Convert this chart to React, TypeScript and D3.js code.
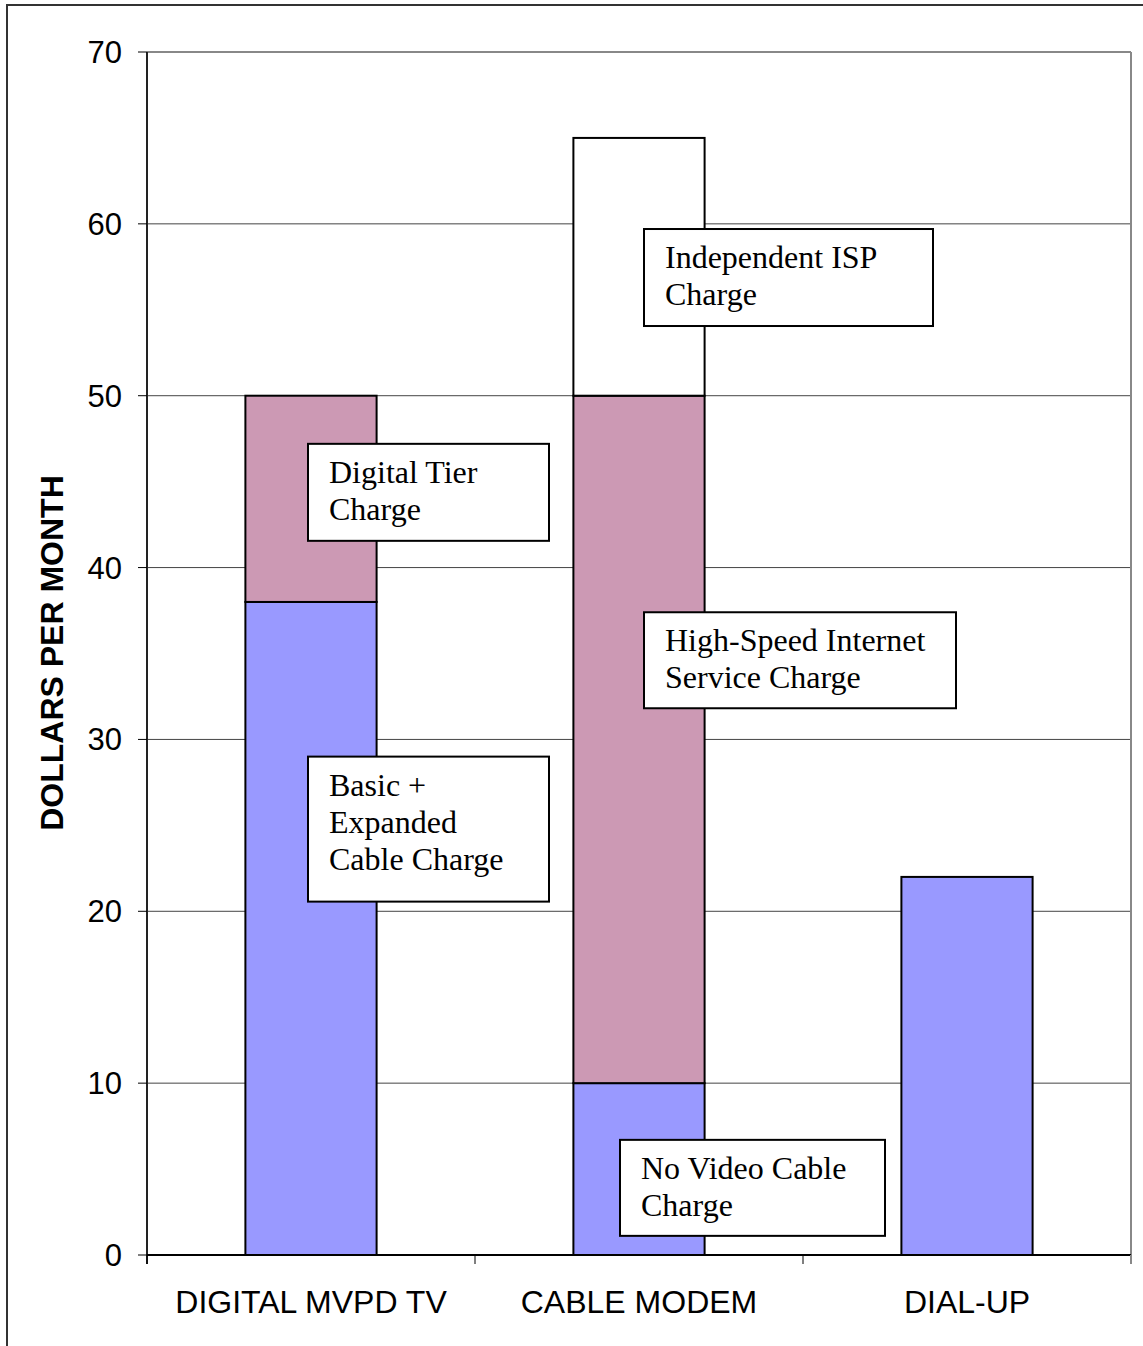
import React from "react";
import * as d3 from "d3";

// Monthly charges by service (dollars per month)
const categories = ["DIGITAL MVPD TV", "CABLE MODEM", "DIAL-UP"];
const baseCharge = [38, 10, 22];       // Basic + Expanded / No Video cable / Dial-up
const upperCharge = [12, 40, 0];       // Digital Tier / High-Speed Internet
const ispCharge = [0, 15, 0];          // Independent ISP
const yTicks = [0, 10, 20, 30, 40, 50, 60, 70];

const BLUE = "#9999FF";
const PINK = "#CC99B4";
const WHITE = "#FFFFFF";

const W = 1143;
const H = 1346;
const M = { left: 147, right: 1131, top: 52, bottom: 1255 };

// Callout boxes: anchored to a category band and a value on the y-axis
const callouts = [
  { cat: 0, dx: -3, top: 47.2, w: 241, h: 97, lines: ["Digital Tier", "Charge"] },
  { cat: 0, dx: -3, top: 29.0, w: 241, h: 145, lines: ["Basic +", "Expanded", "Cable Charge"] },
  { cat: 1, dx: 5, top: 59.7, w: 289, h: 97, lines: ["Independent ISP", "Charge"] },
  { cat: 1, dx: 5, top: 37.4, w: 312, h: 96, lines: ["High-Speed Internet", "Service Charge"] },
  { cat: 1, dx: -19, top: 6.7, w: 265, h: 96, lines: ["No Video Cable", "Charge"] },
];

export default function App() {
  const x = d3.scaleBand<string>().domain(categories).range([M.left, M.right]).padding(0);
  const y = d3.scaleLinear().domain([0, 70]).range([M.bottom, M.top]);
  const bw = x.bandwidth() * 0.4;

  const rows = categories.map((c, i) => ({
    cat: c,
    segs: [
      { v0: 0, v1: baseCharge[i], fill: BLUE },
      { v0: baseCharge[i], v1: baseCharge[i] + upperCharge[i], fill: PINK },
      { v0: baseCharge[i] + upperCharge[i], v1: baseCharge[i] + upperCharge[i] + ispCharge[i], fill: WHITE },
    ].filter((s) => s.v1 > s.v0),
  }));

  const bandEdges = categories.map((c) => x(c)!).concat([M.right]);

  return (
    <svg
      width={W}
      height={H}
      style={{ position: "absolute", left: 0, top: 0, background: "#fff" }}
      fontFamily="'Liberation Sans', Arial, sans-serif"
    >
      <rect x={0} y={0} width={W} height={H} fill="#fff" />
      {/* outer frame */}
      <rect x={7} y={5} width={W} height={H} fill="none" stroke="#333" strokeWidth={2} />

      {/* gridlines */}
      {yTicks.filter((t) => t > 0 && t < 70).map((t) => (
        <line key={t} x1={M.left} x2={M.right} y1={y(t)} y2={y(t)} stroke="#444" strokeWidth={1} />
      ))}

      {/* plot border top/right */}
      <line x1={M.left} x2={M.right} y1={M.top} y2={M.top} stroke="#888" strokeWidth={2} />
      <line x1={M.right} x2={M.right} y1={M.top} y2={M.bottom} stroke="#888" strokeWidth={2} />

      {/* bars */}
      {rows.map((r) =>
        r.segs.map((s, j) => (
          <rect
            key={r.cat + j}
            x={x(r.cat)! + (x.bandwidth() - bw) / 2}
            y={y(s.v1)}
            width={bw}
            height={y(s.v0) - y(s.v1)}
            fill={s.fill}
            stroke="#000"
            strokeWidth={2}
          />
        ))
      )}

      {/* axes */}
      <line x1={M.left} x2={M.left} y1={M.top} y2={M.bottom + 9} stroke="#222" strokeWidth={2} />
      <line x1={M.left} x2={M.right} y1={M.bottom} y2={M.bottom} stroke="#000" strokeWidth={2} />
      {yTicks.map((t) => (
        <g key={t}>
          <line x1={M.left - 9} x2={M.left} y1={y(t)} y2={y(t)} stroke="#000" strokeWidth={1} />
          <text x={122} y={y(t) + 11} textAnchor="end" fontSize={31} fill="#000">
            {t}
          </text>
        </g>
      ))}
      {bandEdges.map((e, i) => (
        <line key={i} x1={e} x2={e} y1={M.bottom} y2={M.bottom + 9} stroke={i === 3 ? "#888" : "#000"} strokeWidth={i === 3 ? 2 : 1} />
      ))}
      {categories.map((c) => (
        <text key={c} x={x(c)! + x.bandwidth() / 2} y={1313} textAnchor="middle" fontSize={32} fill="#000">
          {c}
        </text>
      ))}

      {/* y-axis title */}
      <text
        transform={`translate(63,653) rotate(-90)`}
        textAnchor="middle"
        fontSize={32}
        fontWeight="bold"
        fill="#000"
      >
        DOLLARS PER MONTH
      </text>

      {/* callouts */}
      {callouts.map((c, i) => {
        const bx = x(categories[c.cat])! + (x.bandwidth() - bw) / 2 + bw / 2 + c.dx;
        const by = y(c.top);
        return (
          <g key={i}>
            <rect x={bx} y={by} width={c.w} height={c.h} fill="#fff" stroke="#000" strokeWidth={2} />
            {c.lines.map((l, k) => (
              <text
                key={k}
                x={bx + 21}
                y={by + 39 + k * 37.2}
                fontSize={32}
                fontFamily="'Liberation Serif', 'Times New Roman', serif"
                fill="#000"
              >
                {l}
              </text>
            ))}
          </g>
        );
      })}
    </svg>
  );
}
